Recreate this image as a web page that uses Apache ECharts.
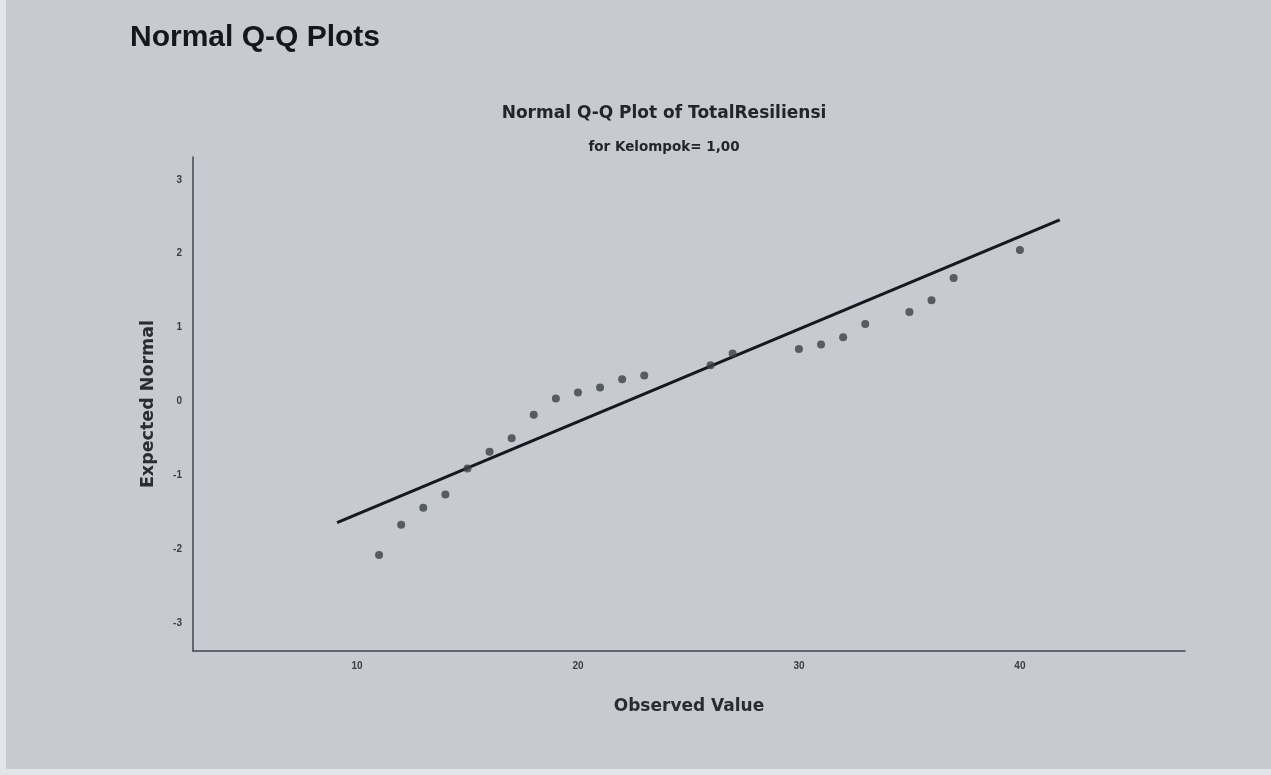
<!DOCTYPE html>
<html>
<head>
<meta charset="utf-8">
<script src="https://cdn.jsdelivr.net/npm/echarts@6/dist/echarts.min.js"></script>
<style>
html,body{margin:0;padding:0;background:#c7cad1;}
#c{width:1271px;height:775px;}
</style>
</head>
<body>
<div id="c"></div>
<script>
var observed = [11,12,13,14,15,16,17,18,19,20,21,22,23,26,27,30,31,32,33,35,36,37,40];
var expected = [-2.08,-1.67,-1.44,-1.26,-0.91,-0.68,-0.50,-0.18,0.04,0.12,0.19,0.30,0.35,0.49,0.65,0.71,0.77,0.87,1.05,1.21,1.37,1.67,2.05];
var lineX = [9.1, 41.8];
var lineY = [-1.64, 2.46];
var xTicks = [10,20,30,40];
var yTicks = [-3,-2,-1,0,1,2,3];

var pts = observed.map(function(v,i){return [v, expected[i]];});
var ln = lineX.map(function(v,i){return [v, lineY[i]];});
var font = '"Liberation Sans", Arial, sans-serif';
var wide = '"DejaVu Sans", sans-serif';

var chart = echarts.init(document.getElementById('c'));
chart.setOption({
  backgroundColor: '#c7cad1',
  animation: false,
  graphic: [
    {type:'rect', left:0, top:0, shape:{width:6, height:775}, style:{fill:'#e4e5e9'}, silent:true},
    {type:'rect', left:0, top:769, shape:{width:1271, height:6}, style:{fill:'#e4e5e9'}, silent:true}
  ],
  title: [
    {text:'Normal Q-Q Plots', left:125, top:18, textStyle:{fontFamily:font, fontSize:30, fontWeight:'bold', color:'#15171c'}},
    {text:'Normal Q-Q Plot of TotalResiliensi', left:659, top:100, textAlign:'center', textStyle:{fontFamily:wide, fontSize:17, fontWeight:'bold', color:'#23252b'}},
    {text:'for Kelompok= 1,00', left:659, top:135, textAlign:'center', textStyle:{fontFamily:wide, fontSize:13.5, fontWeight:'bold', color:'#23252b'}}
  ],
  grid: {left:193, right:86, top:157, bottom:124},
  xAxis: {
    type:'value', min:2.58, max:47.47,
    name:'Observed Value', nameLocation:'middle', nameGap:47,
    nameTextStyle:{fontFamily:wide, fontSize:17, fontWeight:'bold', color:'#2a2c32'},
    axisLine:{show:true, onZero:false, lineStyle:{color:'#42454d', width:1.5}},
    axisTick:{show:false},
    splitLine:{show:false},
    axisLabel:{customValues:xTicks, fontFamily:font, fontSize:10, fontWeight:'bold', color:'#3a3c42', margin:10}
  },
  yAxis: {
    type:'value', min:-3.38, max:3.31,
    name:'Expected Normal', nameLocation:'middle', nameGap:36, nameRotate:90,
    nameTextStyle:{fontFamily:wide, fontSize:17.5, fontWeight:'bold', color:'#2a2c32'},
    axisLine:{show:true, onZero:false, lineStyle:{color:'#42454d', width:1.5}},
    axisTick:{show:false},
    splitLine:{show:false},
    axisLabel:{customValues:yTicks, fontFamily:font, fontSize:10, fontWeight:'bold', color:'#3a3c42', margin:11}
  },
  series: [
    {type:'line', data:ln, symbol:'none', lineStyle:{color:'#16181d', width:3}, z:3},
    {type:'scatter', data:pts, symbol:'circle', symbolSize:8, itemStyle:{color:'#3b3e46'}, z:4}
  ]
});
</script>
</body>
</html>
